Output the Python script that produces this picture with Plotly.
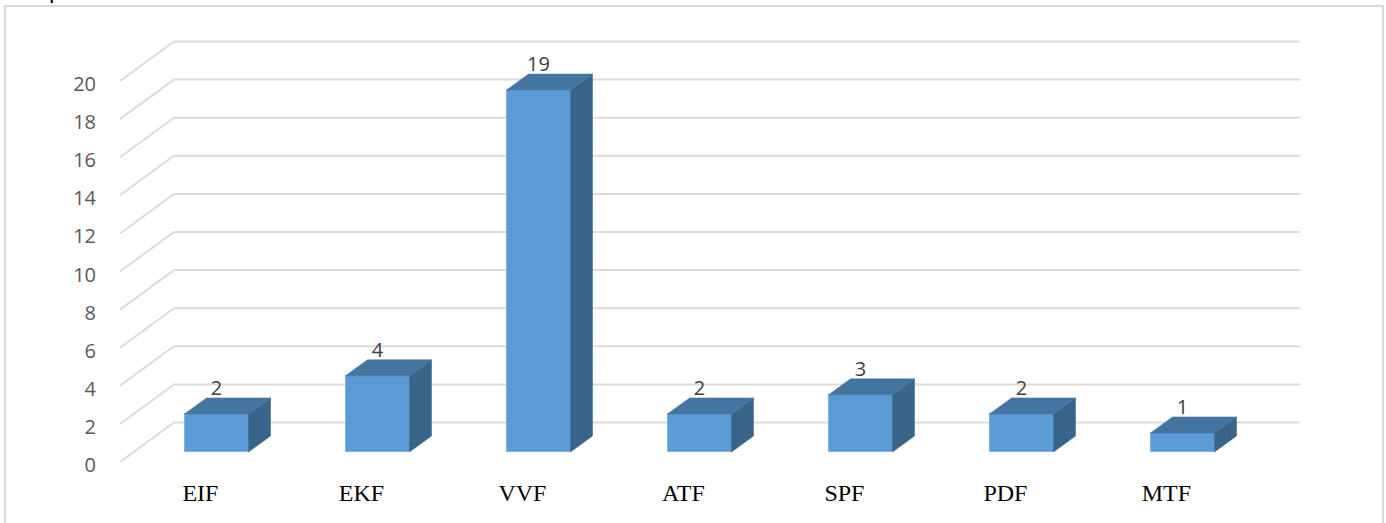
import plotly.graph_objects as go

categories = ["EIF", "EKF", "VVF", "ATF", "SPF", "PDF", "MTF"]
values = [2, 4, 19, 2, 3, 2, 1]
y_ticks = list(range(0, 21, 2))

W, H = 1386, 523
L, R, T, B = 120, 1300, 20, 462       # plot area in page pixels
PX_Y = 19.05                          # pixels per value unit
PX_X = 161.0                          # pixels per category
X0 = 216.5                            # pixel of first category centre


def ux(px):
    return px / PX_X


def uy(px):
    return px / PX_Y


xmin = (L - X0) / PX_X
xmax = (R - X0) / PX_X
ymax = (B - T) / PX_Y

wall_dx, wall_dy = ux(54), uy(39.5)
base = uy(10)
half = ux(32)
dx, dy = ux(22), uy(16)

GRID = "#dcdcdc"
FRONT = "#5b9bd5"
TOP = "#4474a0"
SIDE = "#396489"

fig = go.Figure()

# walls (main axes, drawn beneath the overlay axes holding the bars)
for t in y_ticks:
    fig.add_trace(go.Scatter(
        x=[xmin, xmin + wall_dx, xmax],
        y=[t, t + wall_dy, t + wall_dy],
        mode="lines", line=dict(color=GRID, width=2),
        hoverinfo="skip", showlegend=False, cliponaxis=False,
        xaxis="x", yaxis="y"))

xs = list(range(len(categories)))

# front faces
fig.add_trace(go.Bar(
    x=xs, y=values, base=[base] * len(values), width=2 * half,
    marker=dict(color=FRONT, line=dict(color="#7fb2e0", width=1)),
    showlegend=False, hoverinfo="skip", xaxis="x2", yaxis="y2"))

# side and top faces
for i, v in zip(xs, values):
    top = base + v
    fig.add_trace(go.Scatter(
        x=[i + half, i + half + dx, i + half + dx, i + half, i + half],
        y=[base, base + dy, top + dy, top, base],
        mode="lines", fill="toself", fillcolor=SIDE,
        line=dict(color=SIDE, width=0.5), hoverinfo="skip", showlegend=False,
        xaxis="x2", yaxis="y2"))
    fig.add_trace(go.Scatter(
        x=[i - half, i - half + dx, i + half + dx, i + half, i - half],
        y=[top, top + dy, top + dy, top, top],
        mode="lines", fill="toself", fillcolor=TOP,
        line=dict(color=TOP, width=0.5), hoverinfo="skip", showlegend=False,
        xaxis="x2", yaxis="y2"))

# value labels
fig.add_trace(go.Scatter(
    x=xs, y=[base + v + uy(24) for v in values],
    text=[str(v) for v in values], mode="text",
    textposition="middle center",
    textfont=dict(family="Open Sans, Noto Sans, sans-serif", size=20, color="#404040"),
    hoverinfo="skip", showlegend=False, xaxis="x2", yaxis="y2"))

fig.update_layout(
    width=W, height=H, autosize=False,
    margin=dict(l=L, r=W - R, t=T, b=H - B, pad=0),
    paper_bgcolor="white", plot_bgcolor="white",
    bargap=0, showlegend=False,
    xaxis=dict(
        range=[xmin, xmax], showgrid=False, zeroline=False, showline=False,
        automargin=False,
        tickmode="array", tickvals=[i - 0.1 for i in xs], ticktext=categories,
        ticks="outside", ticklen=9, tickcolor="rgba(0,0,0,0)",
        tickfont=dict(family="Liberation Serif, serif", size=24, color="black")),
    yaxis=dict(
        range=[0, ymax], showgrid=False, zeroline=False, showline=False,
        automargin=False, ticklabelshift=3,
        tickmode="array", tickvals=y_ticks, ticktext=[str(t) for t in y_ticks],
        ticks="outside", ticklen=19, tickcolor="rgba(0,0,0,0)",
        tickfont=dict(family="Open Sans, Noto Sans, sans-serif", size=20, color="#595959")),
    xaxis2=dict(range=[xmin, xmax], overlaying="x", visible=False),
    yaxis2=dict(range=[0, ymax], overlaying="y", visible=False),
    shapes=[
        dict(type="path", xref="paper", yref="paper",
             path=f"M {(5 - L) / (R - L)} {(B - 530) / (B - T)} "
                  f"L {(5 - L) / (R - L)} {(B - 6) / (B - T)} "
                  f"L {(1383 - L) / (R - L)} {(B - 6) / (B - T)} "
                  f"L {(1383 - L) / (R - L)} {(B - 530) / (B - T)}",
             line=dict(color="#d9d9d9", width=2), layer="below"),
    ],
    annotations=[
        dict(text="p", xref="paper", yref="paper",
             x=(55 - L) / (R - L), y=(B - 5) / (B - T),
             xanchor="center", yanchor="bottom", showarrow=False,
             font=dict(family="Liberation Sans, sans-serif", size=24, color="black")),
    ],
)

fig.write_html("out.html", config={"displayModeBar": False},
               post_script="document.body.style.margin='0';")
